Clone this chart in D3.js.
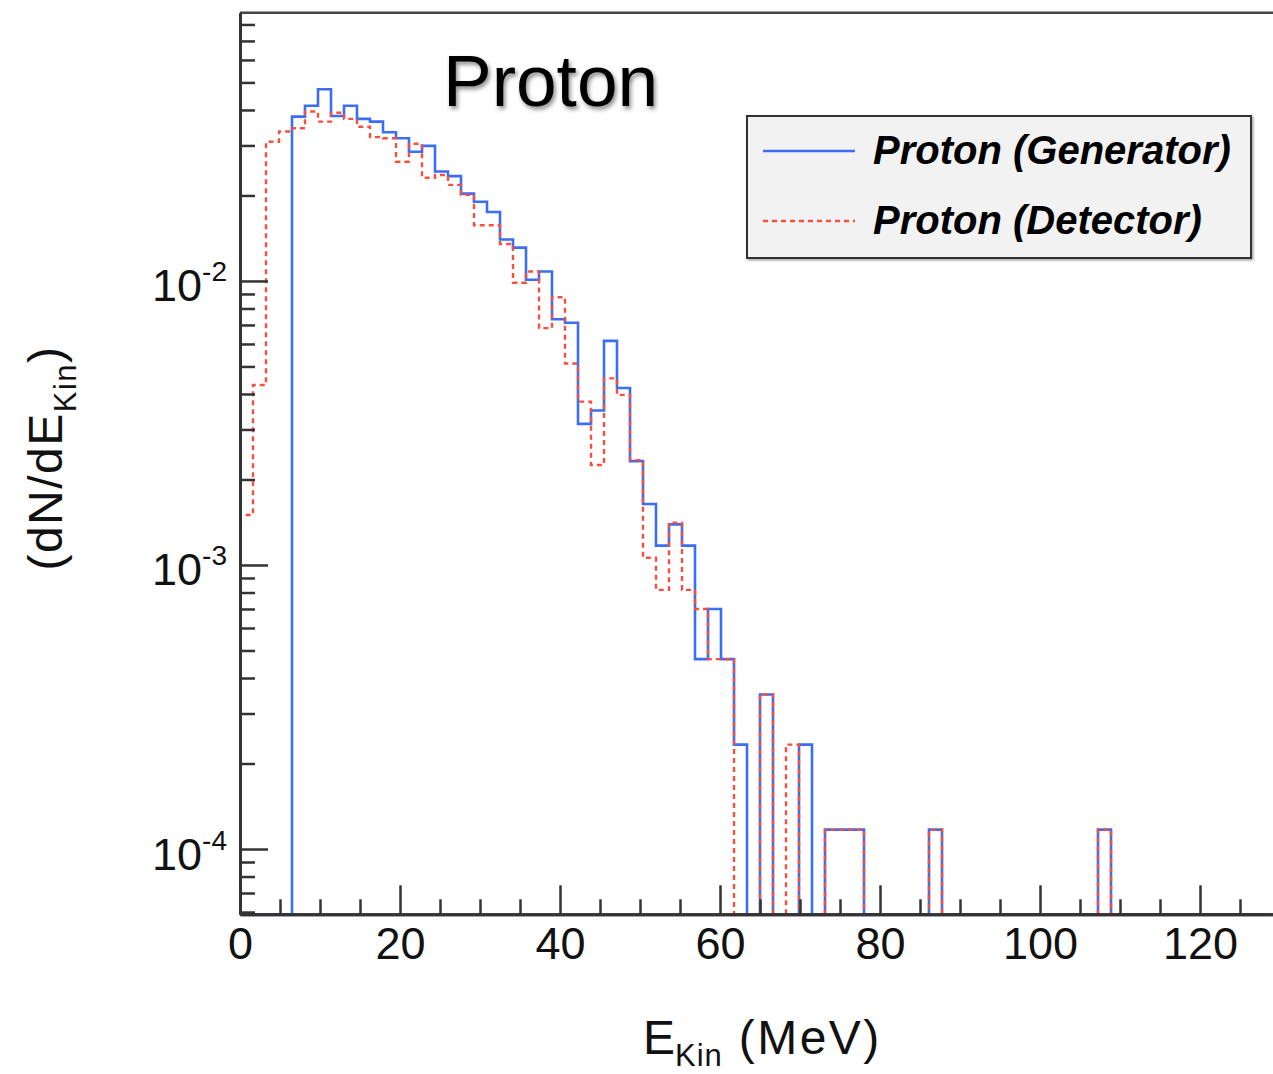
<!DOCTYPE html>
<html><head><meta charset="utf-8">
<script src="https://cdn.jsdelivr.net/npm/d3@7"></script>
<style>body{margin:0;background:#fff;} svg{display:block;}</style>
</head><body><svg id="c" width="1273" height="1074"></svg>
<script>
// ---------------- data ----------------
const chartTitle = "Proton";
const seriesNames = ["Proton (Generator)", "Proton (Detector)"];
const xRange = [0, 130];          // MeV, 80 bins
const nBins = 80;
const yRange = [5.89e-5, 0.088];
const xTickValues = [0, 20, 40, 60, 80, 100, 120];
const xTickLabels = ["0", "20", "40", "60", "80", "100", "120"];
const yTickValues = [1e-4, 1e-3, 1e-2];
const yTickExponents = ["-4", "-3", "-2"];

const generator = [
  0, 0, 0, 0, 0.0379, 0.0414, 0.0473, 0.0381, 0.0414, 0.0372,
  0.0364, 0.0334, 0.0318, 0.0285, 0.0299, 0.0243, 0.0234, 0.0203, 0.0190, 0.0175,
  0.0140, 0.0131, 0.0101, 0.0108, 0.00733, 0.00713, 0.00314, 0.00350, 0.00615, 0.00420,
  0.00232, 0.00164, 0.00117, 0.00139, 0.00117, 0.000466, 0.000700, 0.000466, 0.000233, 0,
  0.000350, 0, 0, 0.000233, 0, 0.000117, 0.000117, 0.000117, 0, 0,
  0, 0, 0, 0.000117, 0, 0, 0, 0, 0, 0,
  0, 0, 0, 0, 0, 0, 0.000117, 0, 0, 0,
  0, 0, 0, 0, 0, 0, 0, 0, 0, 0
];
const detector = [
  0.00150, 0.00430, 0.0309, 0.0336, 0.0345, 0.0395, 0.0364, 0.0391, 0.0372, 0.0349,
  0.0321, 0.0318, 0.0263, 0.0304, 0.0231, 0.0236, 0.0218, 0.0201, 0.0157, 0.0157,
  0.0135, 0.00986, 0.0108, 0.00682, 0.00876, 0.00512, 0.00376, 0.00225, 0.00454, 0.00397,
  0.00234, 0.00106, 0.000817, 0.00141, 0.000817, 0.000700, 0.000466, 0.000466, 0, 0,
  0.000350, 0, 0.000233, 0, 0, 0.000117, 0.000117, 0.000117, 0, 0,
  0, 0, 0, 0.000117, 0, 0, 0, 0, 0, 0,
  0, 0, 0, 0, 0, 0, 0.000117, 0, 0, 0,
  0, 0, 0, 0, 0, 0, 0, 0, 0, 0
];

// ---------------- layout ----------------
const FONT = "'Liberation Sans', Arial, Helvetica, sans-serif";
const plot = {left: 240, right: 1280, top: 12.7, bottom: 914.3};
const svg = d3.select("#c");

const defs = svg.append("defs");
const sh = defs.append("filter").attr("id", "tshadow").attr("x", "-10%").attr("y", "-10%").attr("width", "130%").attr("height", "140%");
sh.append("feDropShadow").attr("dx", 2).attr("dy", 3).attr("stdDeviation", 2).attr("flood-color", "#000").attr("flood-opacity", 0.45);
const lsh = defs.append("filter").attr("id", "lshadow").attr("x", "-5%").attr("y", "-5%").attr("width", "115%").attr("height", "120%");
lsh.append("feDropShadow").attr("dx", 1.5).attr("dy", 1.5).attr("stdDeviation", 1).attr("flood-color", "#000").attr("flood-opacity", 0.35);
defs.append("clipPath").attr("id", "pclip").append("rect")
  .attr("x", plot.left).attr("y", plot.top - 2).attr("width", plot.right - plot.left).attr("height", plot.bottom - plot.top + 4);

const x = d3.scaleLinear().domain(xRange).range([plot.left, plot.right]);
const y = d3.scaleLog().domain(yRange).range([plot.bottom, plot.top]);
const binW = (xRange[1] - xRange[0]) / nBins;

function stepPoints(vals) {
  const pts = [[xRange[0], yRange[0]]];
  vals.forEach((v, i) => {
    const vv = v > yRange[0] ? v : yRange[0];
    pts.push([xRange[0] + i * binW, vv]);
    pts.push([xRange[0] + (i + 1) * binW, vv]);
  });
  pts.push([xRange[1], yRange[0]]);
  return pts;
}
const line = d3.line().x(d => x(d[0])).y(d => y(d[1]));

const g = svg.append("g").attr("clip-path", "url(#pclip)");
g.append("path").attr("d", line(stepPoints(generator)))
  .attr("fill", "none").attr("stroke", "#3b6ef5").attr("stroke-width", 2.6);
g.append("path").attr("d", line(stepPoints(detector)))
  .attr("fill", "none").attr("stroke", "#f5503f").attr("stroke-width", 2.4)
  .attr("stroke-dasharray", "5,4");

// frame top / right
svg.append("line").attr("x1", plot.left).attr("x2", plot.right).attr("y1", plot.top).attr("y2", plot.top)
  .attr("stroke", "#444").attr("stroke-width", 2.5);
svg.append("line").attr("x1", plot.right).attr("x2", plot.right).attr("y1", plot.top).attr("y2", plot.bottom)
  .attr("stroke", "#444").attr("stroke-width", 2.5);

// y axis
const yMinor = [];
[-5, -4, -3, -2, -1].forEach(e => { for (let k = 2; k <= 9; k++) { const v = k * Math.pow(10, e); if (v > yRange[0] && v < yRange[1]) yMinor.push(v); } });
const yAxMinor = svg.append("g").attr("transform", `translate(${plot.left},0)`)
  .call(d3.axisLeft(y).tickValues(yMinor).tickSize(-15).tickSizeOuter(0).tickFormat(""));
const yAxMajor = svg.append("g").attr("transform", `translate(${plot.left},0)`)
  .call(d3.axisLeft(y).tickValues(yTickValues).tickSize(-28).tickSizeOuter(0).tickFormat(""));
[yAxMinor, yAxMajor].forEach(a => {
  a.selectAll("line").attr("stroke", "#333").attr("stroke-width", 2.5);
  a.select(".domain").attr("stroke", "#333").attr("stroke-width", 3);
});
yTickValues.forEach((v, i) => {
  const t = svg.append("text").attr("x", 227).attr("y", y(v) + 20.5)
    .attr("text-anchor", "end").attr("font-family", FONT).attr("font-size", 45).attr("fill", "#111");
  t.append("tspan").text("10");
  t.append("tspan").attr("dy", -20).attr("font-size", 28).text(yTickExponents[i]);
});

// x axis
const xMinor = d3.range(xRange[0], xRange[1] + 0.01, 5).filter(v => v % 20 !== 0);
const xAxMinor = svg.append("g").attr("transform", `translate(0,${plot.bottom})`)
  .call(d3.axisBottom(x).tickValues(xMinor).tickSize(-15).tickSizeOuter(0).tickFormat(""));
const xAxMajor = svg.append("g").attr("transform", `translate(0,${plot.bottom})`)
  .call(d3.axisBottom(x).tickValues(xTickValues).tickSize(-29).tickSizeOuter(0).tickPadding(13)
    .tickFormat((d, i) => xTickLabels[i]));
[xAxMinor, xAxMajor].forEach(a => {
  a.selectAll("line").attr("stroke", "#333").attr("stroke-width", 2.5);
  a.select(".domain").attr("stroke", "#333").attr("stroke-width", 3);
});
xAxMajor.selectAll("text").attr("font-family", FONT).attr("font-size", 45).attr("fill", "#111");

// axis titles
const xt = svg.append("text").attr("x", 643).attr("y", 1054).attr("text-anchor", "start")
  .attr("font-family", FONT).attr("font-size", 48).attr("fill", "#111");
xt.append("tspan").text("E");
xt.append("tspan").attr("dy", 12).attr("font-size", 31).attr("letter-spacing", 1).text("Kin");
xt.append("tspan").attr("dy", -12).attr("letter-spacing", 2.5).text(" (MeV)");

const yt = svg.append("text").attr("transform", "translate(62,458) rotate(-90)").attr("text-anchor", "middle")
  .attr("font-family", FONT).attr("font-size", 48).attr("fill", "#111").attr("letter-spacing", 1.5);
yt.append("tspan").text("(dN/dE");
yt.append("tspan").attr("dy", 14).attr("font-size", 31).text("Kin");
yt.append("tspan").attr("dy", -14).text(")");

// title
svg.append("text").attr("x", 443).attr("y", 106).attr("font-family", FONT).attr("font-size", 73)
  .attr("fill", "#000").attr("filter", "url(#tshadow)").text(chartTitle);

// legend
const lg = svg.append("g");
lg.append("rect").attr("x", 747).attr("y", 116).attr("width", 504).attr("height", 142)
  .attr("fill", "#f2f2f2").attr("stroke", "#333").attr("stroke-width", 2).attr("filter", "url(#lshadow)");
const legendRows = [
  {name: seriesNames[0], color: "#3b6ef5", dash: null, y: 151},
  {name: seriesNames[1], color: "#f5503f", dash: "5,4", y: 221}
];
legendRows.forEach(r => {
  lg.append("line").attr("x1", 763).attr("x2", 855).attr("y1", r.y).attr("y2", r.y)
    .attr("stroke", r.color).attr("stroke-width", 2.4).attr("stroke-dasharray", r.dash);
  lg.append("text").attr("x", 873).attr("y", r.y + 13).attr("font-family", FONT).attr("font-size", 40)
    .attr("font-weight", "bold").attr("font-style", "italic").attr("fill", "#000").text(r.name);
});
</script></body></html>
